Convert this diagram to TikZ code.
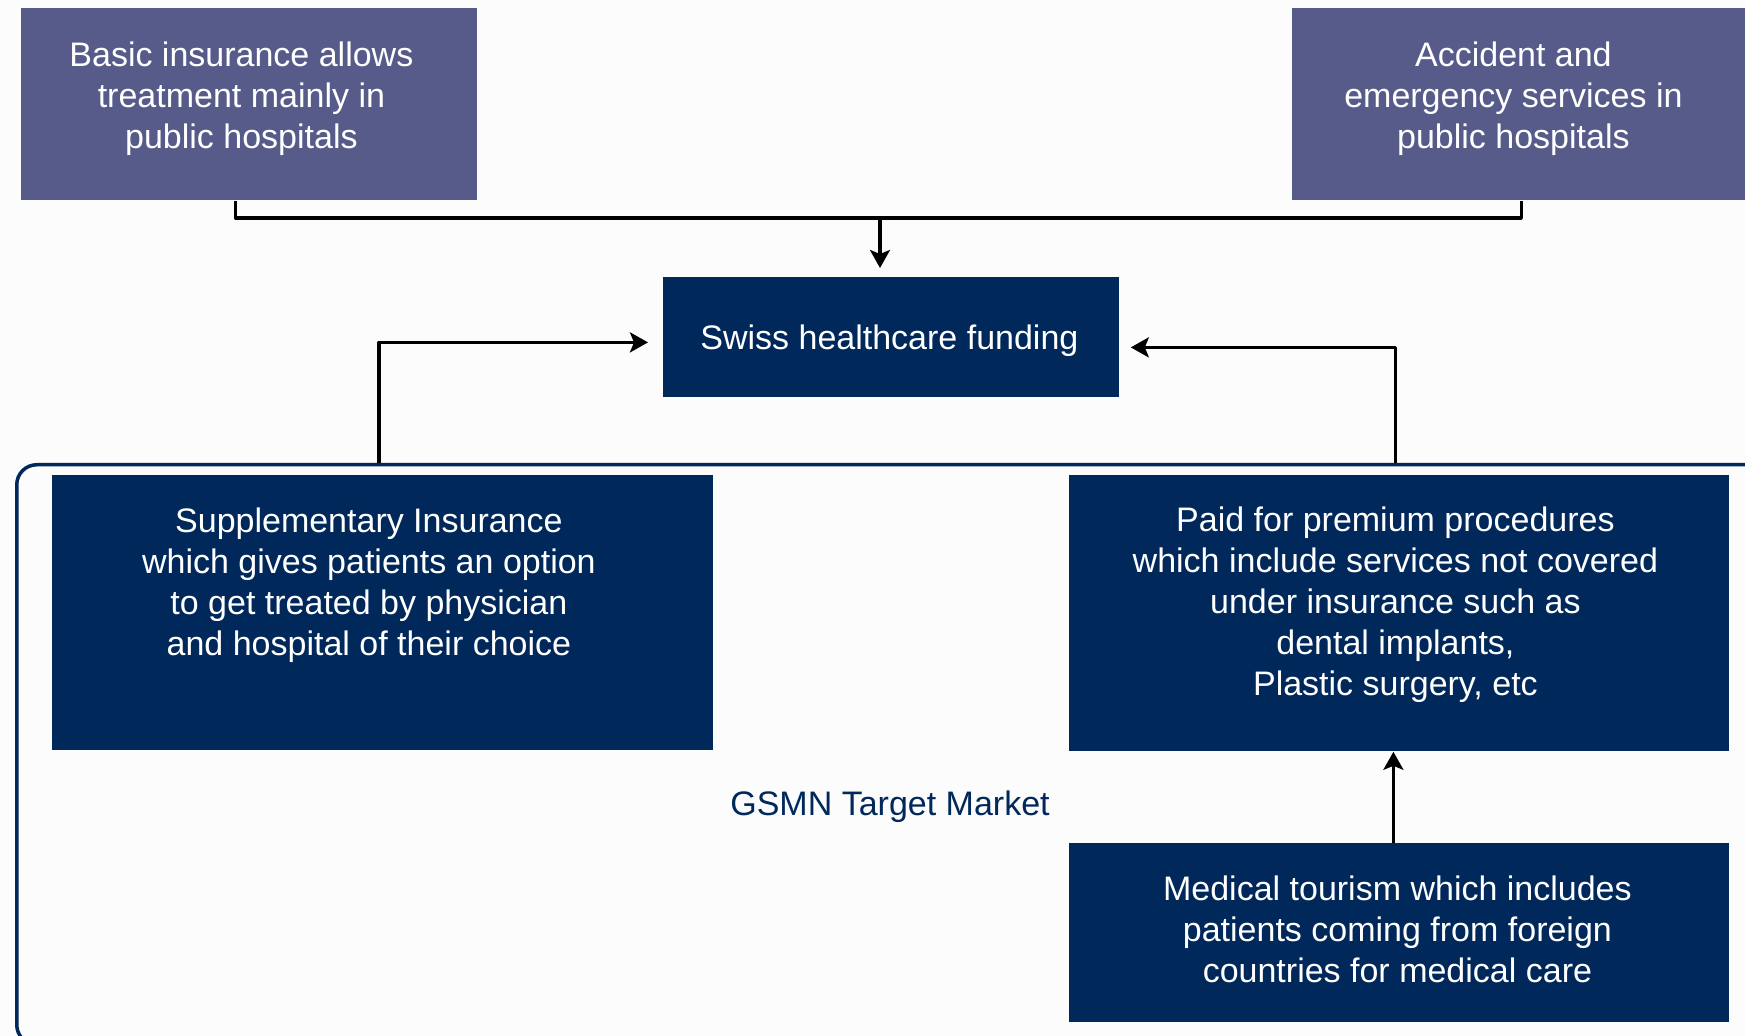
\documentclass[tikz,border=0pt]{standalone}
\usepackage{fontspec}
\setmainfont{Liberation Sans}
\usetikzlibrary{positioning,arrows.meta}
\definecolor{slate}{HTML}{575B89}
\definecolor{navy}{HTML}{01285A}
\definecolor{paper}{HTML}{FCFCFC}
\begin{document}
\begin{tikzpicture}[>={Stealth[length=9pt,width=10pt,inset=2pt]}, x=0.5pt, y=-0.5pt, line join=round,
    greybox/.style={fill=slate, anchor=north west, minimum height=96pt, inner sep=0pt},
    navybox/.style={fill=navy, anchor=north west, inner sep=0pt},
    boxtext/.style={text=white, align=center, inner sep=0pt, font=\fontsize{17}{20.5}\selectfont},
    conn/.style={line width=1.6pt, black}]
    \path[use as bounding box, fill=paper] (0,0) rectangle (1745,1036);
    \clip (0,0) rectangle (1745,1036);
    % target market frame
    \node[draw=navy, line width=1.75pt, rounded corners=10pt, anchor=north west,
        minimum width=880pt, minimum height=290pt] (market) at (15,463) {};
    \node[text=navy, font=\fontsize{17}{20.5}\selectfont] (gsmn) at (890,807) {GSMN Target Market};
    % public side
    \node[greybox, minimum width=228pt] (basic) at (21,8) {};
    \node[boxtext, below=16.5pt of basic.north, xshift=-4pt] (basictext) {Basic insurance allows\\treatment mainly in\\public hospitals};
    \node[greybox, minimum width=229pt] (accident) at (1292,8) {};
    \node[boxtext, below=16.5pt of accident.north, xshift=-4pt] (accidenttext) {Accident and\\emergency services in\\public hospitals};
    \node[navybox, boxtext, anchor=north west, minimum width=228pt, minimum height=60pt] (swiss) at (663,277) {};
    \node[boxtext, yshift=-1.7pt, xshift=-1pt] (swisstext) at (swiss) {Swiss healthcare funding};
    % private side
    \node[navybox, minimum width=330.5pt, minimum height=137.5pt] (supp) at (52,475) {};
    \node[boxtext, below=16pt of supp.north, xshift=-7pt] (supptext) {Supplementary Insurance\\which gives patients an option\\to get treated by physician\\and hospital of their choice};
    \node[navybox, minimum width=330pt, minimum height=138pt] (paid) at (1069,475) {};
    \node[boxtext, below=15.5pt of paid.north, xshift=-2pt] (paidtext) {Paid for premium procedures\\which include services not covered\\under insurance such as\\dental implants,\\Plastic surgery, etc};
    \node[navybox, minimum width=330pt, minimum height=89.5pt] (medical) at (1069,843) {};
    \node[boxtext, yshift=2pt, xshift=-1pt] (medicaltext) at (medical) {Medical tourism which includes\\patients coming from foreign\\countries for medical care};
    % connectors
    \coordinate (split) at (880,218);
    \draw[conn] ([xshift=-7pt]basic.south) |- (split) -| (accident.south);
    \draw[conn,->,shorten >=4.5pt] (split) -- (split |- swiss.north);
    \draw[conn,->,shorten >=7.5pt] ([xshift=-2pt]supp.north |- market.north) |- ([yshift=-2.5pt]swiss.west);
    \draw[conn,->,shorten >=5.5pt] ([xshift=-2pt]paid.north |- market.north) |- ([yshift=-5pt]swiss.east);
    \draw[conn,->] ([xshift=-3pt]medical.north) -- ([xshift=-3pt]paid.south);
\end{tikzpicture}
\end{document}
